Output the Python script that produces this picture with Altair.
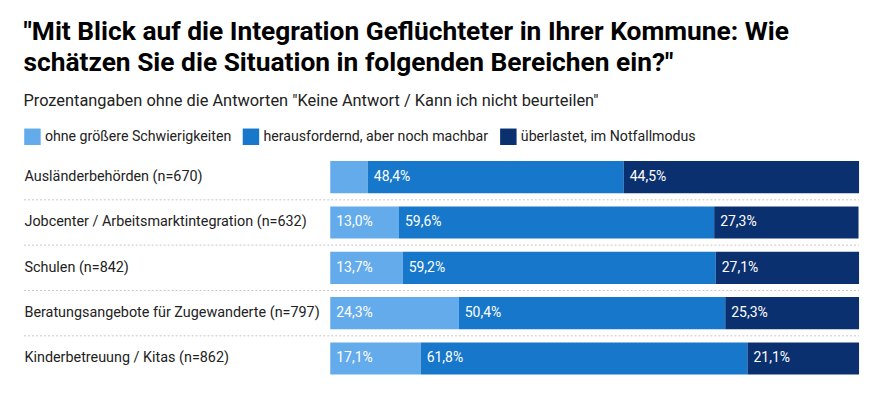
import altair as alt
import pandas as pd

categories = [
    "Ausländerbehörden (n=670)",
    "Jobcenter / Arbeitsmarktintegration (n=632)",
    "Schulen (n=842)",
    "Beratungsangebote für Zugewanderte (n=797)",
    "Kinderbetreuung / Kitas (n=862)",
]
series = [
    "ohne größere Schwierigkeiten",
    "herausfordernd, aber noch machbar",
    "überlastet, im Notfallmodus",
]
ohne = [7.1, 13.0, 13.7, 24.3, 17.1]
heraus = [48.4, 59.6, 59.2, 50.4, 61.8]
ueber = [44.5, 27.3, 27.1, 25.3, 21.1]
colors = ["#64abeb", "#1677cb", "#0b306f"]

rows = []
for i, c in enumerate(categories):
    for j, (s, vals) in enumerate(zip(series, [ohne, heraus, ueber])):
        rows.append({"cat": c, "series": s, "order": j, "value": vals[i]})
df = pd.DataFrame(rows)
sep_df = pd.DataFrame({"cat": categories[1:]})

FONT = "Roboto"

y_enc = alt.Y(
    "cat:N",
    sort=categories,
    scale=alt.Scale(paddingInner=0.29, paddingOuter=0),
    axis=alt.Axis(
        title=None, ticks=False, domain=False, labelAlign="left",
        labelPadding=307, labelFontSize=14.4, labelFont=FONT,
        labelColor="#222", labelLimit=400,
    ),
)

base = alt.Chart(df).transform_stack(
    stack="value", groupby=["cat"], as_=["x0", "x1"],
    sort=[alt.SortField("order", order="ascending")],
).transform_calculate(
    label="replace(format(datum.value, '.1f'), '.', ',') + '%'"
)

bars = base.mark_bar().encode(
    y=y_enc,
    x=alt.X("x0:Q", scale=alt.Scale(domain=[0, 100], nice=False, zero=True), axis=None),
    x2="x1:Q",
    color=alt.Color(
        "series:N",
        sort=series,
        scale=alt.Scale(domain=series, range=colors),
        legend=alt.Legend(
            orient="none", legendX=-307, legendY=-33, direction="horizontal",
            title=None, symbolType="square", symbolSize=272,
            symbolStrokeWidth=0, labelFontSize=14.2, labelFont=FONT,
            labelColor="#222", columnPadding=11, labelOffset=4,
            labelLimit=400,
        ),
    ),
)

labels = base.transform_filter("datum.value >= 10").mark_text(
    align="left", baseline="middle", dx=6, color="white",
    fontSize=14, font=FONT,
).encode(
    y=alt.Y("cat:N", sort=categories),
    x="x0:Q",
    text="label:N",
)

seps = alt.Chart(sep_df).mark_rule(
    color="#c8c8c8", strokeDash=[2, 2], strokeWidth=1, yOffset=-6.6,
).encode(
    y=alt.Y("cat:N", sort=categories, bandPosition=0),
    x=alt.value(-307),
    x2=alt.value(530),
)

chart = alt.layer(seps, bars, labels).properties(
    width=530,
    height=214,
    padding={"left": 15, "top": 10, "right": 20, "bottom": 10},
    title=alt.TitleParams(
        text=[
            "\"Mit Blick auf die Integration Geflüchteter in Ihrer Kommune: Wie",
            "schätzen Sie die Situation in folgenden Bereichen ein?\"",
        ],
        subtitle="Prozentangaben ohne die Antworten \"Keine Antwort / Kann ich nicht beurteilen\"",
        anchor="start", frame="bounds", font=FONT, fontSize=26.4,
        fontWeight="bold", color="#000", lineHeight=32,
        subtitleFont=FONT, subtitleFontSize=16.4, subtitleColor="#222",
        subtitlePadding=16, offset=19,
    ),
).configure_view(stroke=None)

chart.save("out.html", embed_options={"renderer": "svg", "actions": False})
